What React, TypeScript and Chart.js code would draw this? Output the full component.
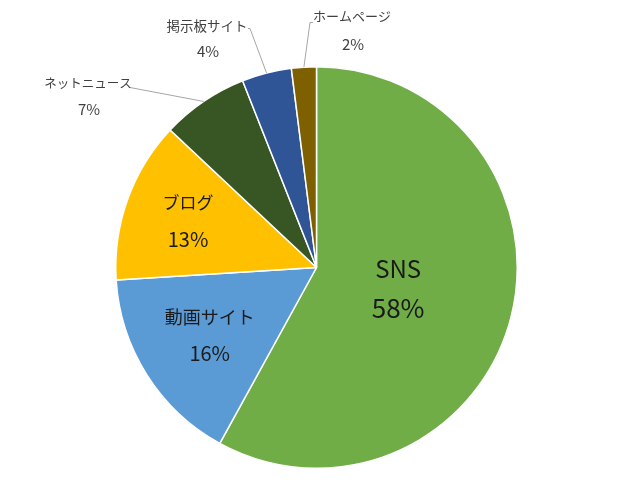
import React, { useEffect, useRef } from "react";
import { Chart, registerables } from "chart.js";

Chart.register(...registerables);

const categories = ["SNS", "動画サイト", "ブログ", "ネットニュース", "掲示板サイト", "ホームページ"];
const shares = [58, 16, 13, 7, 4, 2];
const colors = ["#70AD47", "#5B9BD5", "#FFC000", "#375623", "#2F5597", "#7F6000"];

const FONT = '"Noto Sans CJK JP", "Noto Sans", sans-serif';

// label layout settings (relative to pie centre)
const labelLayout: any[] = [
  { mode: "inside", r: 0.42, size: 24, psize: 26, gap: 39 },
  { mode: "inside", r: 0.63, size: 18, psize: 20, gap: 36 },
  { mode: "inside", r: 0.68, size: 17, psize: 20, gap: 37 },
  { mode: "outside", tx: -228.5, ty: -184, gap: 26, size: 12.5, line: [[-186.5, -180]] },
  { mode: "outside", tx: -109.5, ty: -242, gap: 26, size: 13.5, line: [[-66.5, -239], [-68.5, -239]] },
  { mode: "outside", tx: 35.5, ty: -251, gap: 28, size: 13, line: [[-6.5, -245], [-3.5, -245]] },
];

const labelPlugin = {
  id: "pieLabels",
  afterDatasetsDraw(chart: any) {
    const ctx = chart.ctx;
    const meta = chart.getDatasetMeta(0);
    ctx.save();
    meta.data.forEach((arc: any, i: number) => {
      const cfg = labelLayout[i];
      const { x, y, startAngle, endAngle, outerRadius } = arc.getProps(
        ["x", "y", "startAngle", "endAngle", "outerRadius"],
        true
      );
      const mid = (startAngle + endAngle) / 2;
      const name = categories[i];
      const pct = shares[i] + "%";
      ctx.textAlign = "center";
      ctx.textBaseline = "middle";
      if (cfg.mode === "inside") {
        const lx = x + Math.cos(mid) * outerRadius * cfg.r;
        const ly = y + Math.sin(mid) * outerRadius * cfg.r;
        ctx.fillStyle = "#1a1a1a";
        ctx.font = `${cfg.size}px ${FONT}`;
        ctx.fillText(name, lx, ly - cfg.gap / 2);
        ctx.font = `${cfg.psize}px ${FONT}`;
        ctx.fillText(pct, lx, ly + cfg.gap / 2);
      } else {
        const ex = x + Math.cos(mid) * outerRadius;
        const ey = y + Math.sin(mid) * outerRadius;
        ctx.strokeStyle = "#a6a6a6";
        ctx.lineWidth = 1;
        ctx.beginPath();
        ctx.moveTo(ex, ey);
        cfg.line.forEach((p: number[]) => ctx.lineTo(x + p[0], y + p[1]));
        ctx.stroke();
        ctx.fillStyle = "#404040";
        ctx.font = `${cfg.size}px ${FONT}`;
        ctx.fillText(name, x + cfg.tx, y + cfg.ty);
        ctx.font = `15px ${FONT}`;
        ctx.fillText(pct, x + cfg.tx + 1, y + cfg.ty + cfg.gap);
      }
    });
    ctx.restore();
  },
};

export default function App() {
  const ref = useRef<HTMLCanvasElement | null>(null);
  useEffect(() => {
    if (!ref.current) return;
    const chart = new Chart(ref.current, {
      type: "pie",
      data: {
        labels: categories,
        datasets: [
          {
            data: shares,
            backgroundColor: colors,
            borderColor: "#ffffff",
            borderWidth: 1.5,
          },
        ],
      },
      options: {
        responsive: false,
        animation: false,
        layout: { padding: { left: 115, right: 122, top: 66, bottom: 11 } },
        plugins: {
          legend: { display: false },
          tooltip: { enabled: false },
        },
      },
      plugins: [labelPlugin],
    });
    return () => chart.destroy();
  }, []);
  return (
    <div style={{ position: "absolute", left: 0, top: 0, width: 640, height: 480, background: "#fff" }}>
      <canvas ref={ref} width={640} height={480} style={{ display: "block" }} />
    </div>
  );
}
